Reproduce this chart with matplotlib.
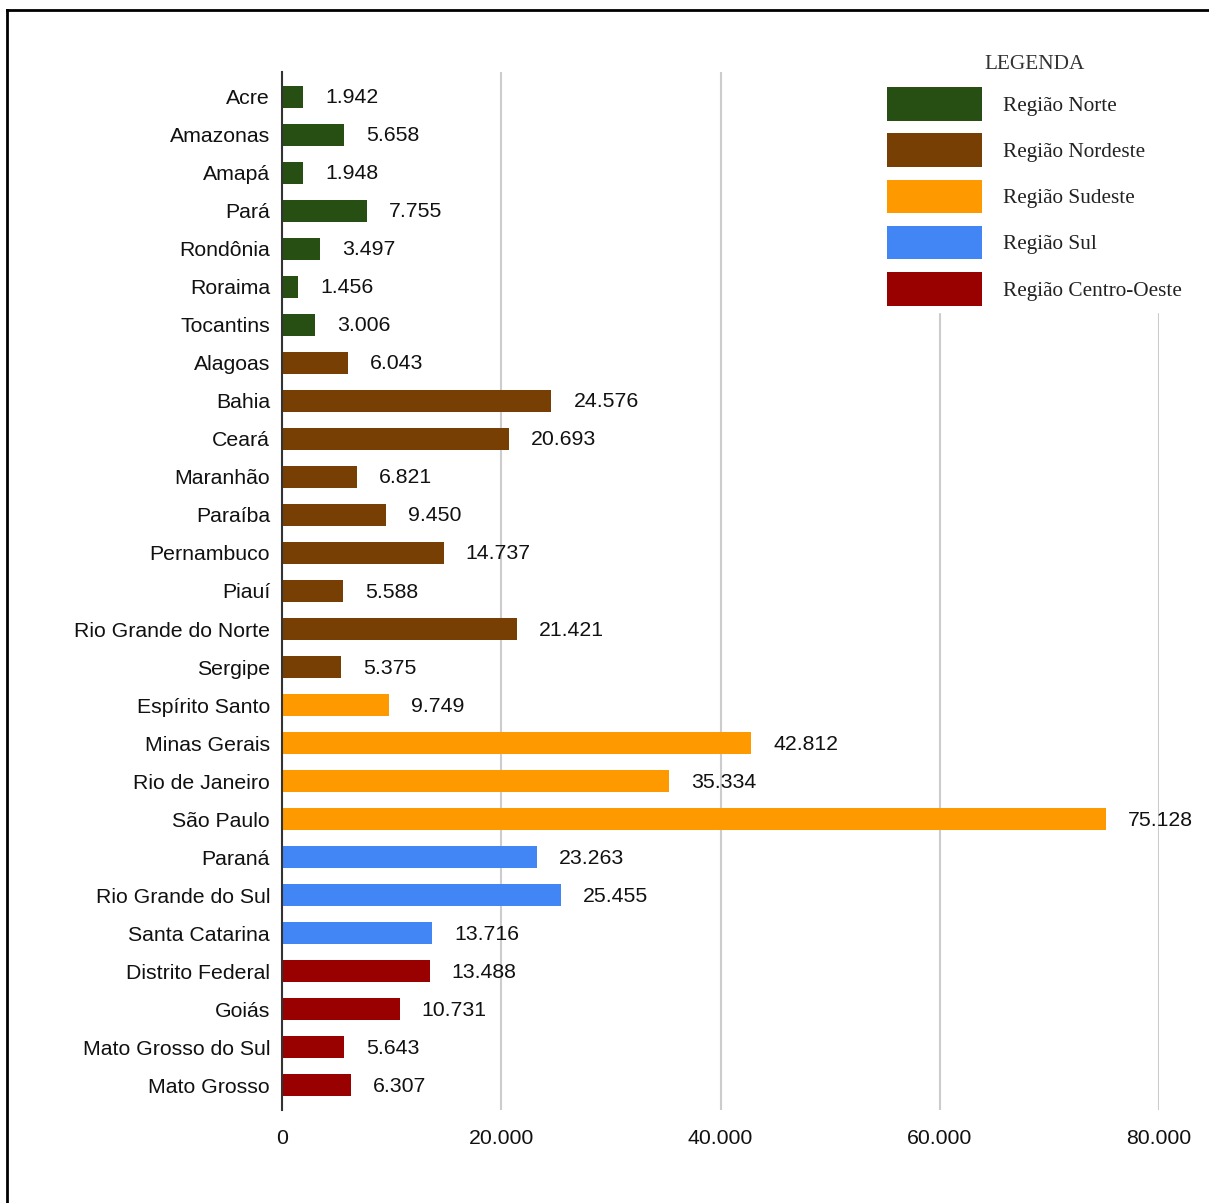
# barras horizontais: valores por estado, cor por região
import numpy as np
import matplotlib.pyplot as plt
from matplotlib.lines import Line2D
from matplotlib.patches import Patch

estados = ["Acre", "Amazonas", "Amapá", "Pará", "Rondônia", "Roraima", "Tocantins",
           "Alagoas", "Bahia", "Ceará", "Maranhão", "Paraíba", "Pernambuco", "Piauí",
           "Rio Grande do Norte", "Sergipe",
           "Espírito Santo", "Minas Gerais", "Rio de Janeiro", "São Paulo",
           "Paraná", "Rio Grande do Sul", "Santa Catarina",
           "Distrito Federal", "Goiás", "Mato Grosso do Sul", "Mato Grosso"]
valores = [1942, 5658, 1948, 7755, 3497, 1456, 3006,
           6043, 24576, 20693, 6821, 9450, 14737, 5588, 21421, 5375,
           9749, 42812, 35334, 75128,
           23263, 25455, 13716,
           13488, 10731, 5643, 6307]
regiao = [0]*7 + [1]*9 + [2]*4 + [3]*3 + [4]*4
nomes_regiao = ["Região Norte", "Região Nordeste", "Região Sudeste", "Região Sul", "Região Centro-Oeste"]
cores_regiao = ["#274e13", "#783f04", "#ff9900", "#4285f4", "#990000"]
xticks = [0, 20000, 40000, 60000, 80000]

W, H = 1209, 1203
fig = plt.figure(figsize=(W/100, H/100), dpi=100)
ax = fig.add_axes([282/W, 1 - 1110/H, 877/W, (1110 - 72)/H])

sans = "Liberation Sans"
serif = "Liberation Serif"
txtcor = "#111111"

def fmt(v):
	return "{:,}".format(v).replace(",", ".")

y = np.arange(len(estados))
cores = [cores_regiao[r] for r in regiao]
ax.barh(y, valores, height=0.58, color=cores, zorder=3)

# rótulos de valor
for i1 in range(len(valores)):
	ax.annotate(fmt(valores[i1]), (valores[i1], y[i1]), xytext=(22, -1),
				textcoords="offset pixels", va="center", ha="left",
				fontsize=15.3, family=sans, color=txtcor, zorder=4)

ax.set_xlim(0, 80000)
ax.set_ylim(len(estados) - 0.35, -0.65)
ax.set_yticks(y)
ax.set_yticklabels(estados, family=sans, fontsize=15.3, color=txtcor)
ax.set_xticks(xticks)
ax.set_xticklabels([fmt(t) for t in xticks], family=sans, fontsize=15.3, color=txtcor)
ax.tick_params(axis="both", length=0)
ax.tick_params(axis="y", pad=8.6)
ax.tick_params(axis="x", pad=13.5)
ax.grid(axis="x", color="#cccccc", linewidth=1.5, zorder=0)
ax.set_axisbelow(True)
for s in ["top", "right", "bottom"]:
	ax.spines[s].set_visible(False)
ax.spines["left"].set_color("#333333")
ax.spines["left"].set_linewidth(1.5)
ax.spines["left"].set_zorder(5)

# legenda
handles = [Patch(facecolor=c, edgecolor="none") for c in cores_regiao]
leg = ax.legend(handles, nomes_regiao, title="LEGENDA", loc="upper left",
				bbox_to_anchor=(881/W, 1 - 49/H), bbox_transform=fig.transFigure,
				prop={"family": serif, "size": 15.3},
				title_fontproperties={"family": serif, "size": 15.3},
				handlelength=4.46, handleheight=2.05, handletextpad=1.0,
				labelspacing=0.6, borderpad=0.3, borderaxespad=0,
				frameon=True, fancybox=False, framealpha=1,
				facecolor="white", edgecolor="white")
for t in leg.get_texts():
	t.set_color("#222222")
leg.get_title().set_color("#333333")

# moldura
fig.add_artist(Line2D([7/W, 7/W], [1 - 10/H, -0.01], color="black", linewidth=2, transform=fig.transFigure))
fig.add_artist(Line2D([7/W, 1.01], [1 - 10/H, 1 - 10/H], color="black", linewidth=2, transform=fig.transFigure))

fig.savefig("out.png", dpi=100)
